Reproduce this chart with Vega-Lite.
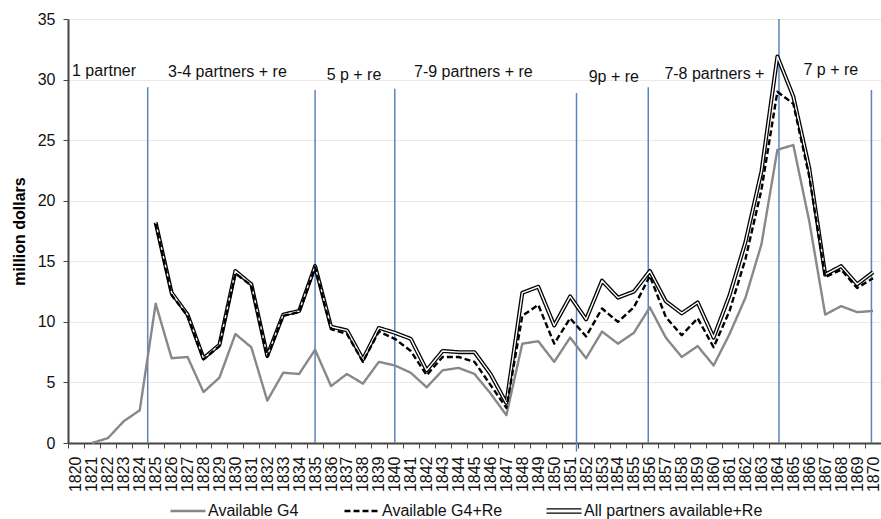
{
  "$schema": "https://vega.github.io/schema/vega-lite/v6.json",
  "width": 813,
  "height": 424,
  "autosize": "none",
  "padding": {"left": 68, "top": 19, "right": 0, "bottom": 76},
  "background": "white",
  "config": {
    "font": "Liberation Sans",
    "numberFormat": "d",
    "view": {"stroke": null},
    "axisY": {
      "grid": true, "gridColor": "#ebeadb", "gridWidth": 1,
      "domainColor": "#444444", "domainWidth": 2,
      "tickColor": "#444444", "tickSize": 5, "tickWidth": 1,
      "labelFontSize": 16, "labelColor": "#111111", "labelPadding": 8,
      "titleFontSize": 16, "titleFontWeight": "bold", "titleColor": "#000000", "titlePadding": 10,
      "tickCount": 7
    },
    "axisX": {
      "grid": false,
      "domainColor": "#444444", "domainWidth": 2,
      "tickColor": "#444444", "tickSize": 5, "tickWidth": 1,
      "labelAngle": -90, "labelFontSize": 16, "labelColor": "#111111", "labelPadding": 8,
      "tickOffset": -7.97, "labelOffset": 7.97,
      "tickCount": 51, "labelOverlap": false, "labelBound": false, "labelFlush": false
    },
    "legend": {"labelLimit": 400}
  },
  "datasets": {
    "series": [
      {"year": 1821, "Available G4": 0},
      {"year": 1822, "Available G4": 0.4},
      {"year": 1823, "Available G4": 1.8},
      {"year": 1824, "Available G4": 2.7},
      {"year": 1825, "Available G4": 11.5, "Available G4+Re": 18.1, "All partners available+Re": 18.2},
      {"year": 1826, "Available G4": 7.0, "Available G4+Re": 12.2, "All partners available+Re": 12.4},
      {"year": 1827, "Available G4": 7.1, "Available G4+Re": 10.5, "All partners available+Re": 10.6},
      {"year": 1828, "Available G4": 4.2, "Available G4+Re": 6.9, "All partners available+Re": 7.0},
      {"year": 1829, "Available G4": 5.4, "Available G4+Re": 8.0, "All partners available+Re": 8.1},
      {"year": 1830, "Available G4": 9.0, "Available G4+Re": 14.0, "All partners available+Re": 14.2},
      {"year": 1831, "Available G4": 7.9, "Available G4+Re": 13.0, "All partners available+Re": 13.1},
      {"year": 1832, "Available G4": 3.5, "Available G4+Re": 7.1, "All partners available+Re": 7.2},
      {"year": 1833, "Available G4": 5.8, "Available G4+Re": 10.5, "All partners available+Re": 10.6},
      {"year": 1834, "Available G4": 5.7, "Available G4+Re": 10.8, "All partners available+Re": 10.9},
      {"year": 1835, "Available G4": 7.7, "Available G4+Re": 14.5, "All partners available+Re": 14.6},
      {"year": 1836, "Available G4": 4.7, "Available G4+Re": 9.4, "All partners available+Re": 9.6},
      {"year": 1837, "Available G4": 5.7, "Available G4+Re": 9.0, "All partners available+Re": 9.3},
      {"year": 1838, "Available G4": 4.9, "Available G4+Re": 6.7, "All partners available+Re": 6.9},
      {"year": 1839, "Available G4": 6.7, "Available G4+Re": 9.2, "All partners available+Re": 9.5},
      {"year": 1840, "Available G4": 6.4, "Available G4+Re": 8.6, "All partners available+Re": 9.1},
      {"year": 1841, "Available G4": 5.8, "Available G4+Re": 7.6, "All partners available+Re": 8.6},
      {"year": 1842, "Available G4": 4.6, "Available G4+Re": 5.6, "All partners available+Re": 6.0},
      {"year": 1843, "Available G4": 6.0, "Available G4+Re": 7.1, "All partners available+Re": 7.6},
      {"year": 1844, "Available G4": 6.2, "Available G4+Re": 7.1, "All partners available+Re": 7.5},
      {"year": 1845, "Available G4": 5.7, "Available G4+Re": 6.7, "All partners available+Re": 7.5},
      {"year": 1846, "Available G4": 4.1, "Available G4+Re": 4.8, "All partners available+Re": 5.7},
      {"year": 1847, "Available G4": 2.3, "Available G4+Re": 2.9, "All partners available+Re": 3.3},
      {"year": 1848, "Available G4": 8.2, "Available G4+Re": 10.5, "All partners available+Re": 12.4},
      {"year": 1849, "Available G4": 8.4, "Available G4+Re": 11.4, "All partners available+Re": 12.9},
      {"year": 1850, "Available G4": 6.7, "Available G4+Re": 8.2, "All partners available+Re": 9.7},
      {"year": 1851, "Available G4": 8.7, "Available G4+Re": 10.3, "All partners available+Re": 12.1},
      {"year": 1852, "Available G4": 7.0, "Available G4+Re": 8.8, "All partners available+Re": 10.2},
      {"year": 1853, "Available G4": 9.2, "Available G4+Re": 11.1, "All partners available+Re": 13.4},
      {"year": 1854, "Available G4": 8.2, "Available G4+Re": 10.0, "All partners available+Re": 12.0},
      {"year": 1855, "Available G4": 9.1, "Available G4+Re": 11.2, "All partners available+Re": 12.5},
      {"year": 1856, "Available G4": 11.2, "Available G4+Re": 13.8, "All partners available+Re": 14.2},
      {"year": 1857, "Available G4": 8.7, "Available G4+Re": 10.4, "All partners available+Re": 11.7},
      {"year": 1858, "Available G4": 7.1, "Available G4+Re": 8.9, "All partners available+Re": 10.7},
      {"year": 1859, "Available G4": 8.0, "Available G4+Re": 10.3, "All partners available+Re": 11.6},
      {"year": 1860, "Available G4": 6.4, "Available G4+Re": 7.9, "All partners available+Re": 8.7},
      {"year": 1861, "Available G4": 9.0, "Available G4+Re": 10.9, "All partners available+Re": 12.2},
      {"year": 1862, "Available G4": 12.0, "Available G4+Re": 15.2, "All partners available+Re": 16.6},
      {"year": 1863, "Available G4": 16.4, "Available G4+Re": 20.9, "All partners available+Re": 22.4},
      {"year": 1864, "Available G4": 24.2, "Available G4+Re": 29.0, "All partners available+Re": 31.9},
      {"year": 1865, "Available G4": 24.6, "Available G4+Re": 28.0, "All partners available+Re": 28.6},
      {"year": 1866, "Available G4": 18.3, "Available G4+Re": 22.0, "All partners available+Re": 22.7},
      {"year": 1867, "Available G4": 10.6, "Available G4+Re": 13.7, "All partners available+Re": 13.9},
      {"year": 1868, "Available G4": 11.3, "Available G4+Re": 14.3, "All partners available+Re": 14.6},
      {"year": 1869, "Available G4": 10.8, "Available G4+Re": 12.8, "All partners available+Re": 13.1},
      {"year": 1870, "Available G4": 10.9, "Available G4+Re": 13.6, "All partners available+Re": 14.1}
    ],
    "rules": [
      {"year": 1824.5, "top": 29.36, "bottom": 0},
      {"year": 1835.0, "top": 29.14, "bottom": 0},
      {"year": 1840.0, "top": 29.25, "bottom": 0},
      {"year": 1851.4, "top": 28.9, "bottom": -0.7},
      {"year": 1855.9, "top": 29.36, "bottom": 0},
      {"year": 1864.1, "top": 35, "bottom": 0},
      {"year": 1869.9, "top": 29.14, "bottom": 0}
    ],
    "notes": [
      {"year": 1821.76, "y": 30.73, "label": "1 partner"},
      {"year": 1829.5, "y": 30.65, "label": "3-4 partners + re"},
      {"year": 1837.44, "y": 30.38, "label": "5 p + re"},
      {"year": 1844.93, "y": 30.65, "label": "7-9 partners + re"},
      {"year": 1853.74, "y": 30.19, "label": "9p + re"},
      {"year": 1860.05, "y": 30.46, "label": "7-8 partners +"},
      {"year": 1867.35, "y": 30.79, "label": "7 p + re"}
    ]
  },
  "encoding": {
    "x": {"field": "year", "type": "quantitative", "title": null,
          "scale": {"domain": [1819.5, 1870.5], "nice": false, "zero": false}}
  },
  "layer": [
    {
      "data": {"name": "rules"},
      "mark": {"type": "rule", "color": "#5b84c0", "strokeWidth": 1.5},
      "encoding": {
        "y": {"field": "top", "type": "quantitative", "title": "million dollars",
              "scale": {"domain": [0, 35], "nice": false, "zero": true}},
        "y2": {"field": "bottom"}
      }
    },
    {
      "data": {"name": "series"},
      "transform": [
        {"fold": ["All partners available+Re"], "as": ["key", "value"]},
        {"filter": "isValid(datum.value)"}
      ],
      "mark": {"type": "line", "strokeWidth": 4, "strokeJoin": "round"},
      "encoding": {
        "y": {"field": "value", "type": "quantitative", "title": "million dollars",
              "scale": {"domain": [0, 35], "nice": false, "zero": true}},
        "color": {"field": "key", "type": "nominal",
          "scale": {"domain": ["Available G4", "Available G4+Re", "All partners available+Re"],
                    "range": ["#888888", "#000000", "#000000"]},
          "legend": {"orient": "none", "legendX": 112, "legendY": 484, "direction": "horizontal",
                     "title": null, "symbolType": "stroke", "symbolSize": 1225, "symbolStrokeWidth": 2.5,
                     "labelFontSize": 16, "labelColor": "#111111", "columnPadding": 40, "labelOffset": 12,
                     "labelLimit": 400,
                     "encode": {"symbols": {"update": {
                        "shape": {"signal": "datum.value === 'All partners available+Re' ? 'M-1,-0.12H1M-1,0.12H1' : 'stroke'"},
                        "strokeWidth": {"signal": "datum.value === 'All partners available+Re' ? 1.3 : 2.5"}}}}}
        },
        "strokeDash": {"field": "key", "type": "nominal",
          "scale": {"domain": ["Available G4", "Available G4+Re", "All partners available+Re"],
                    "range": [[1, 0], [6, 3], [1, 0]]},
          "legend": {"orient": "none", "legendX": 112, "legendY": 484, "direction": "horizontal",
                     "title": null, "symbolType": "stroke", "symbolSize": 1225, "symbolStrokeWidth": 2.5,
                     "labelFontSize": 16, "labelColor": "#111111", "columnPadding": 40, "labelOffset": 12,
                     "labelLimit": 400,
                     "encode": {"symbols": {"update": {
                        "shape": {"signal": "datum.value === 'All partners available+Re' ? 'M-1,-0.12H1M-1,0.12H1' : 'stroke'"},
                        "strokeWidth": {"signal": "datum.value === 'All partners available+Re' ? 1.3 : 2.5"}}}}}
        }
      }
    },
    {
      "data": {"name": "series"},
      "transform": [
        {"fold": ["All partners available+Re"], "as": ["key", "value"]},
        {"filter": "isValid(datum.value)"}
      ],
      "mark": {"type": "line", "strokeWidth": 1.4, "color": "#ffffff", "strokeJoin": "round"},
      "encoding": {
        "y": {"field": "value", "type": "quantitative", "title": "million dollars",
              "scale": {"domain": [0, 35], "nice": false, "zero": true}}
      }
    },
    {
      "data": {"name": "series"},
      "transform": [
        {"fold": ["Available G4", "Available G4+Re"], "as": ["key", "value"]},
        {"filter": "isValid(datum.value)"}
      ],
      "mark": {"type": "line", "strokeWidth": 2.4, "strokeJoin": "round"},
      "encoding": {
        "y": {"field": "value", "type": "quantitative", "title": "million dollars",
              "scale": {"domain": [0, 35], "nice": false, "zero": true}},
        "color": {"field": "key", "type": "nominal",
          "scale": {"domain": ["Available G4", "Available G4+Re", "All partners available+Re"],
                    "range": ["#888888", "#000000", "#000000"]}},
        "strokeDash": {"field": "key", "type": "nominal",
          "scale": {"domain": ["Available G4", "Available G4+Re", "All partners available+Re"],
                    "range": [[1, 0], [6, 3], [1, 0]]}}
      }
    },
    {
      "data": {"name": "notes"},
      "mark": {"type": "text", "fontSize": 16, "color": "#111111", "align": "center", "baseline": "middle"},
      "encoding": {
        "y": {"field": "y", "type": "quantitative", "title": "million dollars",
              "scale": {"domain": [0, 35], "nice": false, "zero": true}},
        "text": {"field": "label"}
      }
    }
  ]
}
